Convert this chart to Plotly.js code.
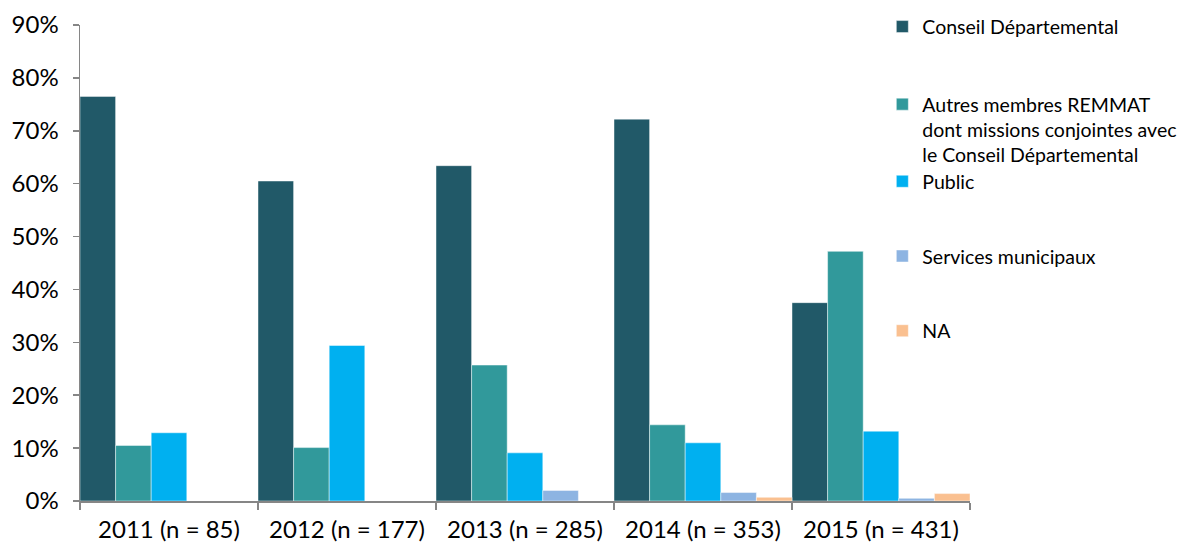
<!DOCTYPE html>
<html>
<head>
<meta charset="utf-8">
<script src="https://cdn.plot.ly/plotly-3.0.1.min.js"></script>
<style>
  html, body { margin: 0; padding: 0; background: #ffffff; }
  #chart { width: 1187px; height: 548px; }
</style>
</head>
<body>
<div id="chart"></div>
<script>
// Years (with sample size) on the category axis
const categories = ["2011 (n = 85)", "2012 (n = 177)", "2013 (n = 285)", "2014 (n = 353)", "2015 (n = 431)"];

// Share of signalements by origin, per year (fractions)
const conseilDepartemental = [0.765, 0.605, 0.634, 0.722, 0.375];
const autresMembres        = [0.105, 0.101, 0.257, 0.144, 0.472];
const publicValues         = [0.129, 0.294, 0.091, 0.110, 0.132];
const servicesMunicipaux   = [null, null, 0.020, 0.016, 0.005];
const naValues             = [null, null, null, 0.007, 0.014];

const seriesNames = [
  "Conseil Départemental",
  "Autres membres REMMAT<br>dont missions conjointes avec<br>le Conseil Départemental",
  "Public",
  "Services municipaux",
  "NA"
];
const seriesValues = [conseilDepartemental, autresMembres, publicValues, servicesMunicipaux, naValues];
const seriesColors = ["#215968", "#31999B", "#00B0F0", "#8DB4E2", "#FAC090"];

const yTickVals = [0, 0.1, 0.2, 0.3, 0.4, 0.5, 0.6, 0.7, 0.8, 0.9];
const yTickText = ["0%", "10%", "20%", "30%", "40%", "50%", "60%", "70%", "80%", "90%"];

const FONT = "Lato, 'Open Sans', sans-serif";
const legendIds = ["legend", "legend2", "legend3", "legend4", "legend5"];

const traces = seriesValues.map((vals, i) => ({
  type: "bar",
  name: seriesNames[i],
  x: categories,
  y: vals,
  marker: { color: seriesColors[i], line: { color: "rgba(255,255,255,0.45)", width: 1 } },
  legend: legendIds[i],
  hoverinfo: "x+y+name"
}));

// One legend box per series, stacked down the right-hand side
const legendY = [1.037, 0.874, 0.712, 0.555, 0.398];
const legendBase = {
  x: 0.9015, xanchor: "left",
  yanchor: "top",
  valign: "top",
  bgcolor: "rgba(0,0,0,0)",
  borderwidth: 0,
  itemwidth: 30,
  font: { family: FONT, size: 19.5, color: "#000000" }
};

const layout = {
  width: 1187,
  height: 548,
  margin: { l: 80, r: 217, t: 25, b: 47, pad: 0, autoexpand: false },
  paper_bgcolor: "#ffffff",
  plot_bgcolor: "#ffffff",
  barmode: "group",
  bargap: 0,
  bargroupgap: 0,
  showlegend: true,
  font: { family: FONT, color: "#000000" },
  xaxis: {
    type: "category",
    tickson: "boundaries",
    ticks: "outside",
    ticklen: 7,
    tickwidth: 1.5,
    tickcolor: "#868686",
    showline: true,
    linecolor: "#868686",
    linewidth: 1.5,
    showgrid: false,
    zeroline: false,
    tickfont: { family: FONT, size: 24, color: "#000000" },
    ticklabelstandoff: 7,
    fixedrange: true
  },
  yaxis: {
    range: [0, 0.9],
    tickvals: yTickVals,
    ticktext: yTickText,
    ticks: "outside",
    ticklen: 6,
    tickwidth: 1.5,
    tickcolor: "#868686",
    showline: true,
    linecolor: "#868686",
    linewidth: 1.5,
    showgrid: false,
    zeroline: false,
    tickfont: { family: FONT, size: 24, color: "#000000" },
    ticklabelstandoff: 9,
    fixedrange: true
  }
};

legendIds.forEach((id, i) => {
  layout[id] = Object.assign({}, legendBase, { y: legendY[i] });
});

Plotly.newPlot("chart", traces, layout, { displayModeBar: false, staticPlot: true });
</script>
</body>
</html>
